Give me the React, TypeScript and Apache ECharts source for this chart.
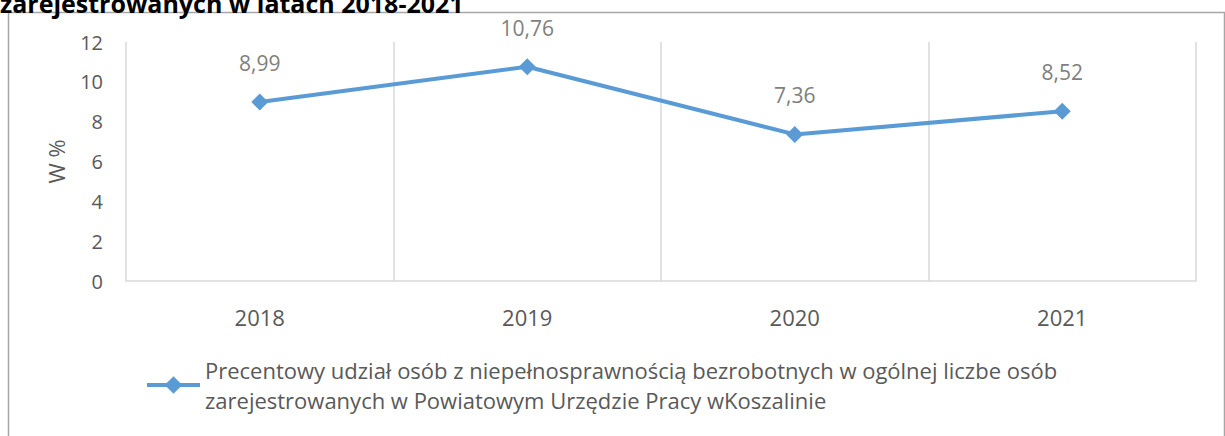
import React, { useEffect, useRef } from "react";
import * as echarts from "echarts";

const categories = ["2018", "2019", "2020", "2021"];
const values = [8.99, 10.76, 7.36, 8.52];
const yTicks = [0, 2, 4, 6, 8, 10, 12];
const seriesName =
  "Precentowy udział osób z niepełnosprawnością bezrobotnych w ogólnej liczbe osób zarejestrowanych w Powiatowym Urzędzie Pracy wKoszalinie";
const legendLine1 = "Precentowy udział osób z niepełnosprawnością bezrobotnych w ogólnej liczbe osób";
const legendLine2 = "zarejestrowanych w Powiatowym Urzędzie Pracy wKoszalinie";
const titleText = "zarejestrowanych w latach 2018-2021";
const yName = "W %";

const FONT = "'Open Sans', 'Noto Sans', sans-serif";

export default function App() {
  const ref = useRef<HTMLDivElement>(null);
  useEffect(() => {
    document.body.style.margin = "0";
    const chart = echarts.init(ref.current!, null, { renderer: "svg" });
    chart.setOption({
      animation: false,
      backgroundColor: "#ffffff",
      textStyle: { fontFamily: FONT },
      graphic: [
        {
          type: "rect",
          shape: { x: 8.5, y: 12.5, width: 1216, height: 440 },
          style: { fill: "none", stroke: "#a6a6a6", lineWidth: 1.5 },
          silent: true,
        },
        {
          type: "text",
          left: 0,
          top: -10,
          style: {
            text: titleText,
            font: `bold 25px ${FONT}`,
            fill: "#000000",
          },
        },
      ],
      grid: { left: 126, top: 42, right: 29, bottom: 155, containLabel: false },
      legend: {
        left: 140,
        top: 335,
        itemWidth: 53,
        itemHeight: 22,
        itemGap: 5,
        data: [{ name: seriesName }],
        formatter: () => legendLine1 + "\n" + legendLine2,
        lineStyle: { width: 4, color: "#5b9bd5" },
        itemStyle: { color: "#5b9bd5" },
        textStyle: {
          fontFamily: FONT,
          fontSize: 22,
          color: "#595959",
          lineHeight: 30,
          padding: [30, 0, 0, 0],
        },
      },
      xAxis: {
        type: "category",
        data: categories,
        boundaryGap: true,
        axisLine: { show: true, lineStyle: { color: "#d9d9d9", width: 1.5 } },
        axisTick: { show: false },
        splitLine: { show: true, lineStyle: { color: "#d9d9d9", width: 1.5 } },
        axisLabel: { color: "#595959", fontSize: 22, margin: 25, fontFamily: FONT },
      },
      yAxis: {
        type: "value",
        min: yTicks[0],
        max: yTicks[yTicks.length - 1],
        interval: 2,
        name: yName,
        nameLocation: "middle",
        nameGap: 59,
        nameRotate: 90,
        nameTextStyle: { color: "#595959", fontSize: 22, fontFamily: FONT },
        axisLine: { show: false },
        axisTick: { show: false },
        splitLine: { show: false },
        axisLabel: { color: "#595959", fontSize: 20, margin: 23, fontFamily: FONT },
      },
      series: [
        {
          name: seriesName,
          type: "line",
          data: values,
          symbol: "diamond",
          symbolSize: 17,
          lineStyle: { color: "#5b9bd5", width: 4 },
          itemStyle: { color: "#5b9bd5" },
          label: {
            show: true,
            position: "top",
            distance: 20,
            color: "#7f7f7f",
            fontSize: 21,
            fontFamily: FONT,
            formatter: (p: any) => String(p.value.toFixed(2)).replace(".", ","),
          },
        },
      ],
    });
    return () => chart.dispose();
  }, []);
  return (
    <div
      ref={ref}
      style={{ position: "absolute", left: 0, top: 0, width: 1225, height: 436 }}
    />
  );
}
